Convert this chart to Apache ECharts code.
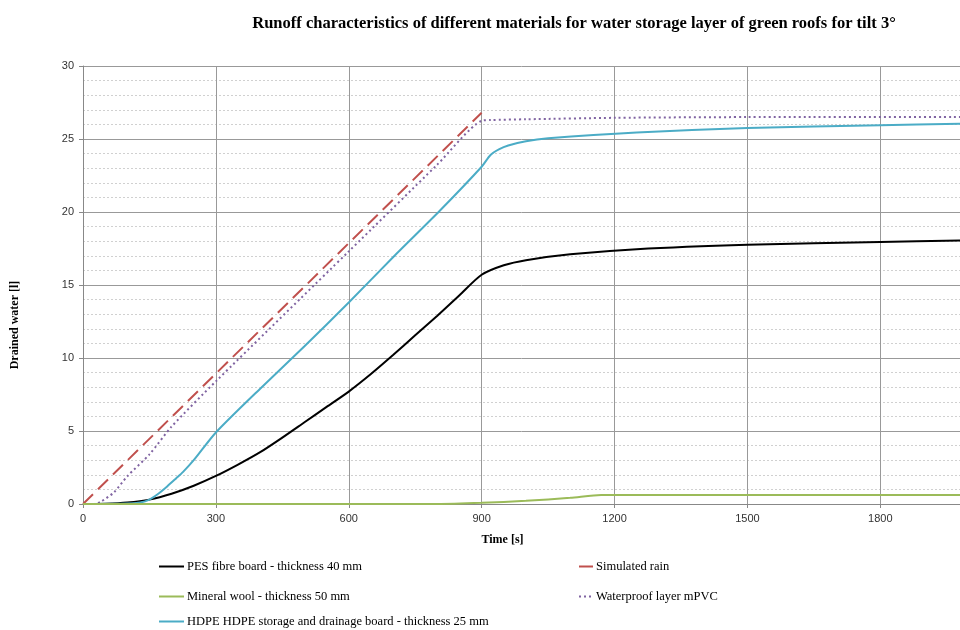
<!DOCTYPE html>
<html>
<head>
<meta charset="utf-8">
<script src="https://cdn.jsdelivr.net/npm/echarts@6/dist/echarts.min.js"></script>
<style>
  body { margin: 0; background: #fff; }
  #chart { width: 960px; height: 630px; }
</style>
</head>
<body>
<div id="chart"></div>
<script>
  // time [s] / drained water [l]
  var pesTime = [0, 50, 100, 150, 200, 250, 300, 350, 400, 450, 500, 550, 600, 650, 700, 750, 800, 850, 900, 950, 1000, 1100, 1250, 1500, 1800, 1980];
  var pesWater = [0, 0.02, 0.1, 0.3, 0.7, 1.25, 1.92, 2.7, 3.55, 4.55, 5.6, 6.65, 7.7, 8.9, 10.2, 11.55, 12.9, 14.3, 15.7, 16.35, 16.7, 17.1, 17.45, 17.75, 17.95, 18.05];

  var woolTime = [0, 800, 900, 1000, 1100, 1170, 1500, 1980];
  var woolWater = [0, 0, 0.08, 0.22, 0.42, 0.62, 0.62, 0.62];

  var hdpeTime = [0, 100, 130, 150, 170, 190, 210, 226, 250, 300, 400, 500, 600, 700, 806, 900, 920, 940, 960, 1000, 1050, 1250, 1500, 1800, 1980];
  var hdpeWater = [0, 0.03, 0.1, 0.3, 0.7, 1.2, 1.75, 2.2, 3.0, 4.9, 7.9, 10.8, 13.8, 16.9, 20.1, 23.1, 23.9, 24.3, 24.55, 24.85, 25.05, 25.45, 25.75, 25.95, 26.05];

  var rainTime = [0, 900];
  var rainWater = [0, 26.8];

  var pvcTime = [0, 25, 40, 70, 100, 150, 200, 300, 600, 800, 900, 920, 1000, 1200, 1500, 1980];
  var pvcWater = [0, 0, 0.15, 0.8, 1.9, 3.4, 5.3, 8.4, 17.3, 23.25, 26.25, 26.3, 26.35, 26.45, 26.5, 26.5];

  var names = [
    'PES fibre board - thickness 40 mm',
    'Mineral wool - thickness 50 mm',
    'HDPE HDPE storage and drainage board - thickness 25 mm',
    'Simulated rain',
    'Waterproof layer mPVC'
  ];

  function pairs(xs, ys) {
    return xs.map(function (x, i) { return [x, ys[i]]; });
  }

  var chart = echarts.init(document.getElementById('chart'));
  var serif = '"Liberation Serif", "Times New Roman", serif';
  var sans = '"Liberation Sans", Arial, sans-serif';

  chart.setOption({
    animation: false,
    title: {
      text: 'Runoff characteristics of different materials for water storage layer of green roofs for tilt 3°',
      left: 569,
      textAlign: 'center',
      top: 10,
      textStyle: { fontFamily: serif, fontSize: 16.5, fontWeight: 'bold', color: '#000' }
    },
    legend: [
      { data: [names[0]], left: 158, top: 560 },
      { data: [names[1]], left: 158, top: 590 },
      { data: [names[2]], left: 158, top: 615 },
      { data: [names[3]], left: 578, top: 560, itemWidth: 14 },
      { data: [names[4]], left: 578, top: 590, itemWidth: 14 }
    ].map(function (l) {
      return Object.assign({
        itemWidth: 25, itemHeight: 12, itemGap: 0, padding: 0,
        itemStyle: { opacity: 0 },
        textStyle: { fontFamily: serif, fontSize: 12.5, color: '#000', padding: [0, 0, 0, -2] }
      }, l);
    }),
    grid: { left: 83, right: 0, top: 66, bottom: 126 },
    xAxis: {
      type: 'value',
      min: 0, max: 1980, interval: 300,
      name: 'Time [s]',
      nameLocation: 'middle',
      nameGap: 30,
      nameTextStyle: { fontFamily: serif, fontSize: 12, fontWeight: 'bold', color: '#000', padding: [0, 38, 0, 0] },
      axisLine: { lineStyle: { color: '#888' } },
      axisTick: { show: true, length: 4, lineStyle: { color: '#888' } },
      axisLabel: {
        fontFamily: sans, fontSize: 11, color: '#333', margin: 9, showMaxLabel: false,
        formatter: function (v) { return String(v); }
      },
      splitLine: { show: true, lineStyle: { color: '#999', width: 1 } }
    },
    yAxis: {
      type: 'value',
      min: 0, max: 30, interval: 5,
      name: 'Drained water [l]',
      nameLocation: 'middle',
      nameGap: 62,
      nameTextStyle: { fontFamily: serif, fontSize: 12, fontWeight: 'bold', color: '#000', padding: [0, 80, 0, 0] },
      axisLine: { show: true, lineStyle: { color: '#888' } },
      axisTick: { show: true, length: 4, lineStyle: { color: '#888' } },
      axisLabel: { fontFamily: sans, fontSize: 11, color: '#333', margin: 9 },
      splitLine: { show: true, lineStyle: { color: '#999', width: 1 } },
      minorTick: { show: false, splitNumber: 5 },
      minorSplitLine: { show: true, lineStyle: { color: '#d0d0d0', type: [2, 2], width: 1 } }
    },
    series: [
      {
        name: names[0], type: 'line', data: pairs(pesTime, pesWater),
        smooth: 0.25, symbol: 'none', z: 3,
        lineStyle: { color: '#000', width: 2 }, itemStyle: { color: '#000' }
      },
      {
        name: names[1], type: 'line', data: pairs(woolTime, woolWater),
        smooth: 0.25, symbol: 'none', z: 4,
        lineStyle: { color: '#9bbb59', width: 2 }, itemStyle: { color: '#9bbb59' }
      },
      {
        name: names[2], type: 'line', data: pairs(hdpeTime, hdpeWater),
        smooth: 0.25, symbol: 'none', z: 3,
        lineStyle: { color: '#4bacc6', width: 2 }, itemStyle: { color: '#4bacc6' }
      },
      {
        name: names[3], type: 'line', data: pairs(rainTime, rainWater),
        symbol: 'none', z: 2,
        lineStyle: { color: '#c0504d', width: 2, type: [14, 7] }, itemStyle: { color: '#c0504d' }
      },
      {
        name: names[4], type: 'line', data: pairs(pvcTime, pvcWater),
        smooth: 0.25, symbol: 'none', z: 2,
        lineStyle: { color: '#8064a2', width: 2, type: [2, 3] }, itemStyle: { color: '#8064a2' }
      }
    ]
  });
</script>
</body>
</html>
